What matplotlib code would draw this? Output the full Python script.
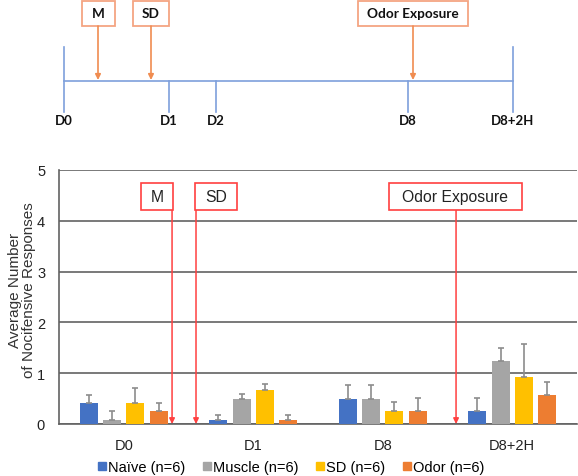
import matplotlib
matplotlib.use("Agg")
import matplotlib.pyplot as plt
from matplotlib.patches import Rectangle
from matplotlib.lines import Line2D
import numpy as np

# ---------------- data ----------------
categories = ["D0", "D1", "D8", "D8+2H"]
series_names = ["Naïve (n=6)", "Muscle (n=6)", "SD (n=6)", "Odor (n=6)"]
naive = [0.42, 0.08, 0.50, 0.25]
muscle = [0.08, 0.50, 0.50, 1.25]
sd = [0.42, 0.67, 0.25, 0.92]
odor = [0.25, 0.08, 0.25, 0.58]
naive_err = [0.16, 0.09, 0.26, 0.26]
muscle_err = [0.18, 0.09, 0.26, 0.25]
sd_err = [0.28, 0.11, 0.18, 0.66]
odor_err = [0.17, 0.09, 0.26, 0.24]
yticks = [0, 1, 2, 3, 4, 5]

# timeline (schematic, not to scale)
timeline_labels = ["D0", "D1", "D2", "D8", "D8+2H"]
timeline_pos = [64, 169, 216, 408, 513]
timeline_events = ["M", "SD", "Odor Exposure"]
timeline_event_pos = [98, 151, 413]

# event markers in the chart (category units)
chart_events = ["M", "SD", "Odor Exposure"]
chart_event_x = [0.373, 0.558, 2.566]

colors = ["#4472C4", "#A5A5A5", "#FFC000", "#ED7D31"]

W, H = 578, 477
fig = plt.figure(figsize=(W / 100, H / 100), dpi=100)

# ---------------- timeline ----------------
tax = fig.add_axes([0, 0, 1, 1])
tax.set_xlim(0, W)
tax.set_ylim(H, 0)
tax.axis("off")
tl_color = "#7EA0DC"
ev_color = "#F08C50"
box_color = "#F4A582"
tax.plot([timeline_pos[0], timeline_pos[-1]], [82, 82], color=tl_color, lw=1.2)
for i, (lab, x) in enumerate(zip(timeline_labels, timeline_pos)):
    top = 48 if i in (0, len(timeline_pos) - 1) else 82
    tax.plot([x, x], [top, 113], color=tl_color, lw=1.2)
    tax.text(x, 121, lab, ha="center", va="center", fontsize=9.5,
             fontweight="bold", family="Lato", color="#111111")
tl_box_w = [33, 36, 110]
for lab, x, bw in zip(timeline_events, timeline_event_pos, tl_box_w):
    tax.annotate("", xy=(x, 81), xytext=(x, 27),
                 arrowprops=dict(arrowstyle="-|>", color=ev_color, lw=1.2,
                                 mutation_scale=8, shrinkA=0, shrinkB=0))
    tax.add_patch(Rectangle((x - bw / 2, 1.5), bw, 25.5, fc="white",
                            ec=box_color, lw=1.3))
    tax.text(x, 14.5, lab, ha="center", va="center", fontsize=9.8,
             fontweight="bold", family="Lato", color="#111111")

# ---------------- bar chart ----------------
ax = fig.add_axes([59 / W, 1 - 425 / H, (577 - 59) / W, (425 - 171) / H])
x = np.arange(len(categories))
width = 0.139
step = 0.18
vals = [naive, muscle, sd, odor]
errs = [naive_err, muscle_err, sd_err, odor_err]
for i, (v, e, c, n) in enumerate(zip(vals, errs, colors, series_names)):
    xs = x + (i - 1.5) * step
    ax.bar(xs, v, width, color=c, label=n, zorder=3)
    ax.errorbar(xs, v, yerr=[np.zeros(len(e)), e], fmt="none",
                ecolor="#8C8C8C", elinewidth=1.2, capsize=2, capthick=1.2, zorder=4)

ax.set_xlim(-0.5, 3.5)
ax.set_ylim(0, 5)
ax.set_yticks(yticks)
ax.set_xticks(x)
ax.set_xticklabels(categories)
ax.yaxis.grid(True, color="#626262", lw=1.2, zorder=0)
ax.set_axisbelow(True)
for s in ["top", "right"]:
    ax.spines[s].set_visible(False)
for s in ["left", "bottom"]:
    ax.spines[s].set_color("#626262")
    ax.spines[s].set_linewidth(1.2)
ax.tick_params(axis="both", length=0, labelsize=10.5, colors="#222222")
ax.tick_params(axis="y", pad=10)
ax.tick_params(axis="x", pad=10)
for t in ax.get_xticklabels() + ax.get_yticklabels():
    t.set_family("Liberation Sans")
ax.set_ylabel("Average Number\nof Nocifensive Responses", family="Liberation Sans",
              fontsize=11, color="#333333", linespacing=0.95, va="center")
ax.yaxis.set_label_coords(-0.071, 0.53)

red = "#FF4040"
box_left = [0.133, 0.550, 2.048]
box_w = [0.247, 0.324, 1.027]
for lab, ex, bl, bw in zip(chart_events, chart_event_x, box_left, box_w):
    ax.annotate("", xy=(ex, 0), xytext=(ex, 4.21),
                arrowprops=dict(arrowstyle="-|>", color=red, lw=1.1,
                                mutation_scale=8, shrinkA=0, shrinkB=0), zorder=5)
    ax.add_patch(Rectangle((bl, 4.21), bw, 0.53, fc="white", ec=red, lw=1.2, zorder=6))
    ax.text(bl + bw / 2, 4.475, lab, ha="center", va="center", fontsize=11.3,
            family="Liberation Sans", color="#222222", zorder=7)

handles = [Line2D([], [], marker="s", ls="none", color=c, markersize=5.3) for c in colors]
fig.legend(handles, series_names, loc="center", bbox_to_anchor=(291 / W, 1 - 468 / H),
           ncol=4, frameon=False, handlelength=0.6, handletextpad=0.15,
           columnspacing=1.15, borderpad=0, borderaxespad=0,
           prop=dict(family="Liberation Sans", size=10.5))

fig.savefig("out.png", dpi=100)
